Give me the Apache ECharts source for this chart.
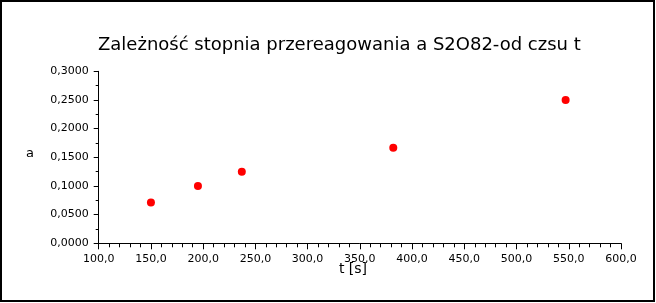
<!DOCTYPE html>
<html>
<head>
<meta charset="utf-8">
<script src="https://cdn.jsdelivr.net/npm/echarts@6/dist/echarts.min.js"></script>
<style>
html,body{margin:0;padding:0;background:#fff;}
#c{width:656px;height:303px;}
</style>
</head>
<body>
<div id="c"></div>
<script>
var titleText = 'Zależność stopnia przereagowania a S2O82-od czsu t';
var xName = 't [s]';
var yName = 'a';
var tValues = [150, 195, 237, 382, 547];
var aValues = [0.071, 0.100, 0.125, 0.1667, 0.250];
var xMin = 100, xMax = 600, xStep = 50;
var yMin = 0, yMax = 0.3, yStep = 0.05;

var points = tValues.map(function (t, i) { return [t, aValues[i]]; });
var font = 'DejaVu Sans';
var chart = echarts.init(document.getElementById('c'), null, {renderer: 'canvas'});
chart.setOption({
  animation: false,
  backgroundColor: '#fff',
  title: {
    text: titleText,
    left: 93,
    top: 31,
    textStyle: {fontFamily: font, fontSize: 18, fontWeight: 'normal', color: '#000'}
  },
  grid: {left: 98.7, right: 35, top: 71.3, bottom: 59.7, containLabel: false},
  xAxis: {
    type: 'value', min: xMin, max: xMax, interval: xStep,
    axisLine: {show: true, onZero: false, lineStyle: {color: '#000', width: 1}},
    axisTick: {show: true, length: 6, lineStyle: {color: '#000'}},
    minorTick: {show: true, splitNumber: 5, length: 4, lineStyle: {color: '#000'}},
    splitLine: {show: false},
    axisLabel: {
      fontFamily: font, fontSize: 11, color: '#000', margin: 10,
      formatter: function (v) { return v.toFixed(1).replace('.', ','); }
    }
  },
  yAxis: {
    type: 'value', min: yMin, max: yMax, interval: yStep,
    axisLine: {show: true, onZero: false, lineStyle: {color: '#000', width: 1}},
    axisTick: {show: true, length: 5, lineStyle: {color: '#000'}},
    minorTick: {show: true, splitNumber: 2, length: 3, lineStyle: {color: '#000'}},
    splitLine: {show: false},
    axisLabel: {
      fontFamily: font, fontSize: 11, color: '#000', margin: 10,
      formatter: function (v) { return v.toFixed(4).replace('.', ','); }
    }
  },
  graphic: [
    {type: 'rect', shape: {x: 1, y: 1, width: 653, height: 300},
     style: {fill: null, stroke: '#000', lineWidth: 2}, silent: true, z: 100},
    {type: 'text', x: 30, y: 154, style: {text: yName, font: '13px "DejaVu Sans"', fill: '#000', textAlign: 'center', textVerticalAlign: 'middle'}},
    {type: 'text', x: 353, y: 269, style: {text: xName, font: '14px "DejaVu Sans"', fill: '#000', textAlign: 'center', textVerticalAlign: 'middle'}}
  ],
  series: [{
    type: 'scatter',
    data: points,
    symbol: 'circle',
    symbolSize: 8,
    itemStyle: {color: '#ff0000', opacity: 1}
  }]
});
</script>
</body>
</html>
